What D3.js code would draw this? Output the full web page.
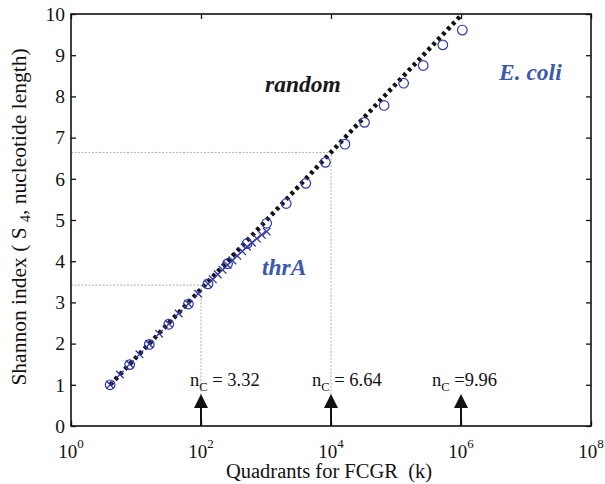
<!DOCTYPE html>
<html lang="en">
    <head>
        <meta charset="utf-8">
        <title>Shannon index vs FCGR quadrants</title>
        <script type="text/javascript" src="https://cdn.jsdelivr.net/npm/d3@7/dist/d3.min.js"></script>
        <style type="text/css">
        body { margin: 0; background: #fff; }
        svg, svg text { font-family: "Liberation Serif", "Times New Roman", serif; }
        .axis path { display: none; }
        .axis line { stroke: #111; stroke-width: 1.3; }
        .axis text { font-size: 19.5px; fill: #111; }
        .lbl { font-weight: bold; font-style: italic; font-size: 23.5px; }
        </style>
    </head>
    <body>
        <script>
                var w = 605;
                var h = 484;
                var serif = "Liberation Serif, Times New Roman, serif";

                // tick values
                var kTicks = [1, 1e2, 1e4, 1e6, 1e8];
                var kExp = ["0", "2", "4", "6", "8"];
                var sTicks = [0, 1, 2, 3, 4, 5, 6, 7, 8, 9, 10];

                // random sequence: S4 = log4(k)
                var randomK = [4, 1048576];
                var randomS = [1, 10];

                // E. coli genome (circles)
                var ecoliK = [4, 8, 16, 32, 64, 128, 256, 512, 1024, 2048, 4096, 8192,
                              16384, 32768, 65536, 131072, 262144, 524288, 1048576];
                var ecoliS = [1.0, 1.49, 1.98, 2.47, 2.96, 3.45, 3.94, 4.43, 4.92, 5.40, 5.89, 6.40,
                              6.84, 7.37, 7.78, 8.32, 8.75, 9.25, 9.61];

                // thrA gene (crosses)
                var thrK = [4, 5.66, 8, 11.3, 16, 22.6, 32, 45.3, 64, 90.5, 128, 152, 181, 215,
                            256, 304, 362, 431, 512, 609, 724, 861, 1024];
                var thrS = [1.0, 1.25, 1.5, 1.74, 1.99, 2.24, 2.48, 2.73, 2.97, 3.21, 3.45, 3.56, 3.68, 3.79,
                            3.91, 4.02, 4.13, 4.24, 4.35, 4.45, 4.55, 4.64, 4.72];

                // critical n_C markers
                var ncK = [1e2, 1e4, 1e6];
                var ncVal = ["3.32", "6.64", "9.96"];
                var ncSep = ["\u00a0= ", "\u00a0= ", "\u00a0="];
                // guide lines (k, S)
                var guideK = [1e2, 1e4];
                var guideS = [3.42, 6.64];

                var blue = "#2f36a6";
                var textBlue = "#3d5aaa";

                var xScale = d3.scaleLog()
                  .domain([1, 1e8])
                  .range([71, 591]);

                var yScale = d3.scaleLinear()
                  .domain([0, 10])
                  .range([426, 14]);

                var svg = d3.select("body")
                  .append("svg")
                  .attr("width", w)
                  .attr("height", h);

                // guide lines
                guideK.forEach(function (k, i) {
                  var gx = xScale(k), gy = yScale(guideS[i]);
                  svg.append("path")
                    .attr("d", "M" + xScale(1) + "," + gy + "H" + gx + "V" + yScale(0))
                    .attr("fill", "none")
                    .attr("stroke", "#999")
                    .attr("stroke-width", 0.8)
                    .attr("stroke-dasharray", "2,1.5");
                });

                // axes (inward ticks)
                svg.append("g")
                  .attr("class", "axis")
                  .attr("transform", "translate(71,0)")
                  .call(d3.axisLeft(yScale).tickValues(sTicks).tickSize(-5).tickPadding(6).tickFormat(d3.format("d")))
                  .attr("font-family", serif);

                svg.append("g")
                  .attr("class", "axis")
                  .attr("transform", "translate(591,0)")
                  .call(d3.axisRight(yScale).tickValues(sTicks).tickSize(-5).tickFormat(""));

                svg.append("g")
                  .attr("class", "axis")
                  .attr("transform", "translate(0,426)")
                  .call(d3.axisBottom(xScale).tickValues(kTicks).tickSize(-5).tickFormat(""));

                svg.append("g")
                  .attr("class", "axis")
                  .attr("transform", "translate(0,14)")
                  .call(d3.axisTop(xScale).tickValues(kTicks).tickSize(-5).tickFormat(""));

                // x tick labels 10^n
                kTicks.forEach(function (k, i) {
                  var t = svg.append("text")
                    .attr("x", xScale(k))
                    .attr("y", 458)
                    .attr("text-anchor", "middle")
                    .attr("font-size", 19)
                    .attr("fill", "#111");
                  t.append("tspan").text("10");
                  t.append("tspan").attr("dy", -10).attr("font-size", 13).text(kExp[i]);
                });

                // frame
                svg.append("rect")
                  .attr("x", 71).attr("y", 14)
                  .attr("width", 520).attr("height", 412)
                  .attr("fill", "none")
                  .attr("stroke", "#111")
                  .attr("stroke-width", 1.6);

                // random line
                var line = d3.line()
                  .x(function (d) { return xScale(d[0]); })
                  .y(function (d) { return yScale(d[1]); });

                svg.append("path")
                  .datum(d3.zip(randomK, randomS))
                  .attr("fill", "none")
                  .attr("stroke", "#111")
                  .attr("stroke-width", 4.5)
                  .attr("stroke-dasharray", "3.5,3.6")
                  .attr("d", line);

                // E. coli circles
                svg.selectAll(".ec")
                  .data(d3.zip(ecoliK, ecoliS))
                  .enter().append("circle")
                  .attr("class", "ec")
                  .attr("cx", function (d) { return xScale(d[0]); })
                  .attr("cy", function (d) { return yScale(d[1]); })
                  .attr("r", 4.8)
                  .attr("fill", "none")
                  .attr("stroke", blue)
                  .attr("stroke-width", 1.2);

                // thrA crosses
                var cs = 3.8;
                svg.selectAll(".thr")
                  .data(d3.zip(thrK, thrS))
                  .enter().append("path")
                  .attr("class", "thr")
                  .attr("d", function (d) {
                    var cx = xScale(d[0]), cy = yScale(d[1]);
                    return "M" + (cx - cs) + "," + (cy - cs) + "L" + (cx + cs) + "," + (cy + cs) +
                           "M" + (cx - cs) + "," + (cy + cs) + "L" + (cx + cs) + "," + (cy - cs);
                  })
                  .attr("stroke", blue)
                  .attr("stroke-width", 1.3);

                // arrows and n_C labels
                ncK.forEach(function (k, i) {
                  var ax = xScale(k);
                  svg.append("line")
                    .attr("x1", ax).attr("x2", ax)
                    .attr("y1", 426).attr("y2", 406)
                    .attr("stroke", "#111")
                    .attr("stroke-width", 2);
                  svg.append("path")
                    .attr("d", "M" + (ax - 7) + ",408L" + (ax + 7) + ",408L" + ax + ",394Z")
                    .attr("fill", "#111");
                  var t = svg.append("text")
                    .attr("x", ax - [11, 19, 29][i])
                    .attr("y", 386)
                    .attr("font-size", 18.5)
                    .attr("fill", "#111");
                  t.append("tspan").text("n");
                  t.append("tspan").attr("dy", 5).attr("font-size", 12.5).text("C");
                  t.append("tspan").attr("dy", -5).text(ncSep[i] + ncVal[i]);
                });

                // series labels
                svg.append("text").attr("class", "lbl")
                  .attr("x", 265).attr("y", 92)
                  .attr("fill", "#1a1a1a")
                  .text("random");
                svg.append("text").attr("class", "lbl")
                  .attr("x", 499).attr("y", 80)
                  .attr("fill", textBlue)
                  .text("E. coli");
                svg.append("text").attr("class", "lbl")
                  .attr("x", 262).attr("y", 275)
                  .attr("fill", textBlue)
                  .text("thrA");

                // axis titles
                svg.append("text")
                  .attr("x", 329).attr("y", 478)
                  .attr("text-anchor", "middle")
                  .attr("font-size", 20.5)
                  .attr("fill", "#111")
                  .text("Quadrants for FCGR\u00a0 (k)");

                var yt = svg.append("text")
                  .attr("transform", "translate(26,217) rotate(-90)")
                  .attr("text-anchor", "middle")
                  .attr("font-size", 21.5)
                  .attr("fill", "#111");
                yt.append("tspan").text("Shannon index ( S\u00a0");
                yt.append("tspan").attr("dy", 4).attr("font-size", 14).text("4");
                yt.append("tspan").attr("dy", -4).text(", nucleotide length)");
            </script>
    </body>
</html>
